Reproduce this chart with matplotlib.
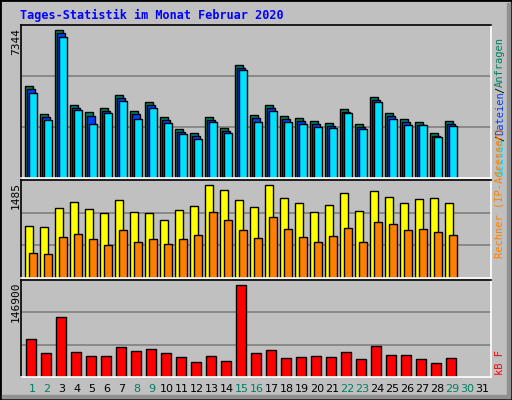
import matplotlib
matplotlib.use("Agg")
import matplotlib.pyplot as plt
from matplotlib.patches import Rectangle

days = list(range(1, 32))
weekend = [1, 2, 8, 9, 15, 16, 22, 23, 29, 30]

hits = [4560, 3170, 7344, 3610, 3270, 3470, 4110, 3320, 3760, 3020, 2420, 2220, 3020, 2470, 5600,
        3120, 3610, 3070, 2970, 2820, 2720, 3420, 2670, 4010, 3220, 2920, 2770, 2220, 2820]
files = [4410, 3020, 7200, 3460, 3070, 3320, 3960, 3170, 3610, 2870, 2270, 2070, 2870, 2320, 5450,
         2970, 3460, 2920, 2820, 2670, 2570, 3270, 2520, 3860, 3070, 2770, 2620, 2070, 2670]
pages = [4210, 2870, 6990, 3360, 2670, 3220, 3810, 2920, 3460, 2720, 2170, 1920, 2770, 2220, 5350,
         2780, 3310, 2770, 2670, 2520, 2470, 3220, 2420, 3760, 2920, 2620, 2620, 2020, 2570]
visits = [823, 807, 1114, 1211, 1098, 1033, 1243, 1049, 1033, 920, 1081, 1146, 1485, 1404, 1243,
          1130, 1485, 1275, 1194, 1049, 1162, 1356, 1065, 1388, 1291, 1194, 1259, 1275, 1194]
hosts = [404, 387, 662, 710, 629, 533, 759, 581, 629, 549, 629, 694, 1049, 920, 759,
         646, 968, 775, 662, 581, 678, 791, 581, 888, 855, 759, 775, 742, 694]
kbytes = [60040, 37530, 95430, 39140, 34310, 34310, 47180, 40740, 43960, 37530, 32700, 24660, 34310, 26270, 146900,
          37530, 42350, 31090, 32700, 34310, 32700, 39140, 29490, 48780, 35920, 35920, 29490, 23050, 31090]

W, H = 512, 400
GREY = "#C0C0C0"
fig = plt.figure(figsize=(W / 100, H / 100), dpi=100)
fig.patch.set_facecolor(GREY)

# frame with bevel
fig.patches.append(Rectangle((0, 0), W, H, transform=None, fill=False, ec="black", lw=2))
fig.patches.append(Rectangle((W - 5, 2), 3, H - 5, transform=None, color="#909090"))
fig.patches.append(Rectangle((2, 2), W - 5, 3, transform=None, color="#909090"))


def make_ax(top, bottom, left=21, right=491):
    ax = fig.add_axes([left / W, 1 - bottom / H, (right - left) / W, (bottom - top) / H])
    ax.set_facecolor(GREY)
    ax.set_xlim(left, right)
    for s in ["left", "top"]:
        ax.spines[s].set_color("black")
    for s in ["right", "bottom"]:
        ax.spines[s].set_color("white")
    for s in ax.spines.values():
        s.set_linewidth(1.2)
    ax.set_xticks([])
    ax.set_yticks([])
    return ax


def prep(ax, vmax, axh, barh):
    top = vmax * axh / barh
    ax.set_ylim(0, top)
    for f in (1 / 3, 2 / 3):
        ax.axhline(top * f, color="#808080", lw=1.2, zorder=0)


n = len(hits)
x0 = [25 + 15 * i for i in range(n)]
kw = dict(align="edge", edgecolor="black", linewidth=1)

ax1 = make_ax(25, 178)
prep(ax1, max(hits), 153, 148)
ax1.bar(x0, hits, width=8, color="#00805F", **kw)
ax1.bar([x + 2 for x in x0], files, width=8, color="#0040FF", **kw)
ax1.bar([x + 4 for x in x0], pages, width=8, color="#00E0FF", **kw)

ax2 = make_ax(180, 278)
prep(ax2, max(visits), 98, 93)
ax2.bar(x0, visits, width=8, color="#FFFF00", **kw)
ax2.bar([x + 4 for x in x0], hosts, width=8, color="#FF8000", **kw)

ax3 = make_ax(280, 377)
prep(ax3, max(kbytes), 97, 92)
ax3.bar([x + 1 for x in x0], kbytes, width=10, color="#FF0000", **kw)

mono = "DejaVu Sans Mono"
fig.text(20 / W, 1 - 15 / H, "Tages-Statistik im Monat Februar 2020", color="#0000FF",
         family=mono, weight="bold", fontsize=8.5, va="center")

for y, lab in [(28, "7344"), (182, "1485"), (282, "146900")]:
    fig.text(16 / W, 1 - y / H, lab, rotation=90, family=mono, fontsize=8,
             ha="center", va="top")

for d in days:
    fig.text((32 + 15 * (d - 1)) / W, 1 - 389 / H, str(d), family="DejaVu Sans", fontsize=8,
             ha="center", va="center", color="#00805F" if d in weekend else "black")

# right side legends (vertical, reading bottom-up)
def vlegend(parts, ystart, fs=7.5):
    y = ystart
    for txt, col in parts:
        fig.text(500 / W, 1 - y / H, txt, rotation=90, family=mono, fontsize=fs,
                 color=col, ha="center", va="bottom")
        y -= 5.9 * len(txt)

vlegend([("Seiten", "#00E0FF"), ("/", "black"), ("Dateien", "#0040FF"), ("/", "black"),
         ("Anfragen", "#00805F")], 176)
vlegend([("Rechner (IP-Adressen)", "#FF8000")], 258)
vlegend([("kB F", "#FF0000")], 375)

fig.savefig("out.png", dpi=100, facecolor=GREY)
